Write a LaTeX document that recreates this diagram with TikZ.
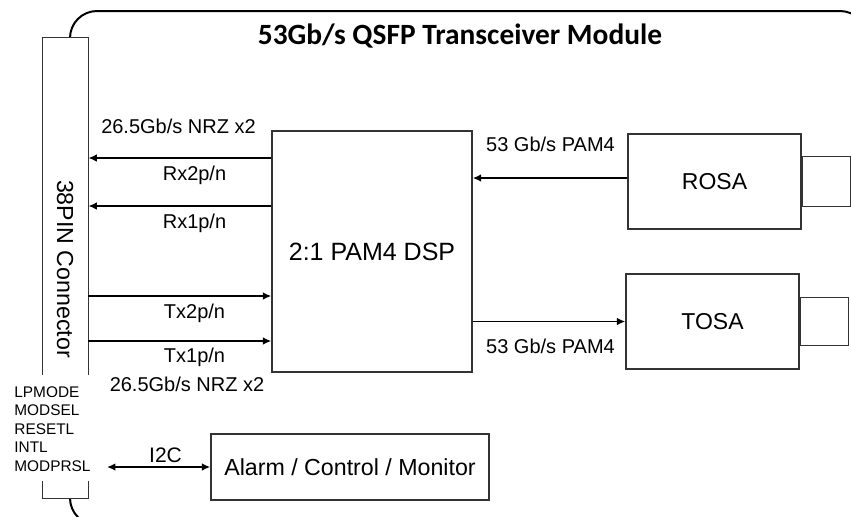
\documentclass[tikz,border=0pt]{standalone}
\usepackage{fontspec}
\setmainfont{Liberation Sans}
\newfontfamily\titlefont{Carlito}
\usetikzlibrary{arrows.meta,calc,positioning}

\begin{document}
\begin{tikzpicture}[x=0.5pt,y=-0.5pt,>={Latex[length=4.2pt,width=3.8pt]},
  block/.style={draw=black!80,line width=0.7pt,inner sep=0pt},
  wire/.style={line width=0.8pt},
  sig/.style={wire,->},
  lbl/.style={font=\fontsize{10}{12}\selectfont,anchor=base,inner sep=0pt}]

\useasboundingbox (0,0) rectangle (851,516);
\clip (0,0) rectangle (851,516);

\draw[line width=1pt,rounded corners=13.5pt] (70,11) rectangle (867,525);

\node[font=\titlefont\bfseries\fontsize{14.7}{17}\selectfont,anchor=base] (title) at (460,44) {53Gb/s QSFP Transceiver Module};

\node[fill=white,inner sep=0pt,minimum width=22.5pt,minimum height=230pt] (conn) at (65.5,268) {};
\coordinate (gaptop) at (65.5,375);
\coordinate (gapbot) at (65.5,481);
\draw[block] (conn.west |- gaptop) -- (conn.north west) -- (conn.north east) -- (conn.east |- gaptop);
\draw[block] (conn.west |- gapbot) -- (conn.south west) -- (conn.south east) -- (conn.east |- gapbot);
\node[rotate=-90,font=\fontsize{11.6}{14}\selectfont] (connlbl) at (65,269) {38PIN Connector};

\node[block,minimum width=100pt,minimum height=120.5pt,font=\fontsize{12.5}{15}\selectfont] (dsp) at (372,251.5) {2:1 PAM4 DSP};
\node[block,minimum width=86.5pt,minimum height=47.5pt,font=\fontsize{11.5}{14}\selectfont] (rosa) at (714.5,181.5) {ROSA};
\node[block,minimum width=24pt,minimum height=25pt,anchor=west] (rosaport) at (rosa.east) {};
\node[block,minimum width=86.5pt,minimum height=47.5pt,font=\fontsize{11.5}{14}\selectfont] (tosa) at (712.5,321.5) {TOSA};
\node[block,minimum width=24pt,minimum height=24pt,anchor=west] (tosaport) at (tosa.east) {};
\node[block,minimum width=139pt,minimum height=33pt,font=\fontsize{11.6}{14}\selectfont] (alarm) at (350,467) {Alarm / Control / Monitor};

\draw[sig] (dsp.west |- 0,158) -- (conn.east |- 0,158);
\draw[sig] (dsp.west |- 0,206) -- (conn.east |- 0,206);
\draw[sig] (conn.east |- 0,296) -- (dsp.west |- 0,296);
\draw[sig] (conn.east |- 0,341) -- (dsp.west |- 0,341);
\draw[sig] (rosa.west |- 0,178) -- (dsp.east |- 0,178);
\draw[sig] (dsp.east |- tosa.west) -- (tosa.west);

\node[lbl] (rxrate) at (178.5,133) {26.5Gb/s NRZ x2};
\node[lbl] (rx2lbl) at (194.5,180) {Rx2p/n};
\node[lbl] (rx1lbl) at (194.5,228) {Rx1p/n};
\node[lbl] (tx2lbl) at (194.5,318) {Tx2p/n};
\node[lbl] (tx1lbl) at (194.5,362) {Tx1p/n};
\node[lbl] (txrate) at (187,391) {26.5Gb/s NRZ x2};
\node[lbl] (rosarate) at (550.5,151) {53 Gb/s PAM4};
\node[lbl] (tosarate) at (550.5,353) {53 Gb/s PAM4};

\node[anchor=north west,align=left,inner sep=0pt,font=\fontsize{7.7}{9.25}\selectfont] (ctrl) at (14,386) {LPMODE\\MODSEL\\RESETL\\INTL\\MODPRSL};
\coordinate (i2cend) at (107,467);
\draw[wire,<->] (i2cend) -- (alarm.west);
\node[lbl,font=\fontsize{10.5}{12}\selectfont] (i2clbl) at (165.5,462) {I2C};
\end{tikzpicture}
\end{document}
